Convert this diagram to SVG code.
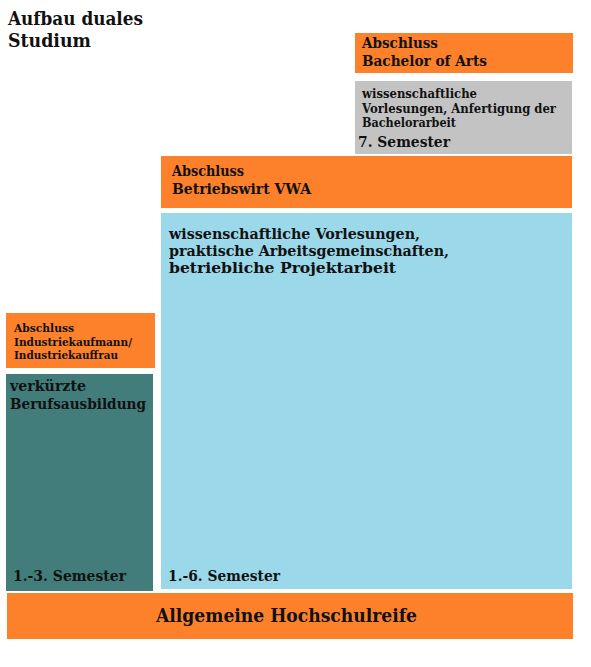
<svg xmlns="http://www.w3.org/2000/svg" width="591" height="667" viewBox="0 0 591 667">
<style>
text{font-family:"DejaVu Serif","Liberation Serif",serif;font-weight:bold;fill:#111;}
.or{fill:#fd812b;}
.gr{fill:#c3c3c3;}
.tl{fill:#427c7b;}
.bl{fill:#9ad8ea;}
</style>
<rect width="591" height="667" fill="#fff"/>
<g id="title">
<text x="8" y="25" font-size="18" textLength="135" lengthAdjust="spacingAndGlyphs">Aufbau duales</text>
<text x="8" y="47" font-size="18" textLength="83" lengthAdjust="spacingAndGlyphs">Studium</text>
</g>
<g id="bachelor">
<rect class="or" x="355" y="33" width="218" height="40"/>
<text x="362" y="48" font-size="14" textLength="76" lengthAdjust="spacingAndGlyphs">Abschluss</text>
<text x="362" y="66" font-size="14" textLength="125" lengthAdjust="spacingAndGlyphs">Bachelor of Arts</text>
</g>
<g id="semester7">
<rect class="gr" x="355" y="81" width="217" height="73"/>
<text x="362" y="98" font-size="12" textLength="115" lengthAdjust="spacingAndGlyphs">wissenschaftliche</text>
<text x="362" y="113" font-size="12" textLength="194" lengthAdjust="spacingAndGlyphs">Vorlesungen, Anfertigung der</text>
<text x="362" y="127" font-size="12" textLength="94" lengthAdjust="spacingAndGlyphs">Bachelorarbeit</text>
<text x="358" y="147" font-size="15" textLength="92" lengthAdjust="spacingAndGlyphs">7. Semester</text>
</g>
<g id="vwa">
<rect class="or" x="161" y="156" width="411" height="52"/>
<text x="172" y="176" font-size="14" textLength="72" lengthAdjust="spacingAndGlyphs">Abschluss</text>
<text x="172" y="194" font-size="14" textLength="139" lengthAdjust="spacingAndGlyphs">Betriebswirt VWA</text>
</g>
<g id="semester1-6">
<rect class="bl" x="161" y="213" width="411" height="376"/>
<text x="169" y="239" font-size="14" textLength="251" lengthAdjust="spacingAndGlyphs">wissenschaftliche Vorlesungen,</text>
<text x="169" y="256" font-size="14" textLength="280" lengthAdjust="spacingAndGlyphs">praktische Arbeitsgemeinschaften,</text>
<text x="169" y="273" font-size="14" textLength="227" lengthAdjust="spacingAndGlyphs">betriebliche Projektarbeit</text>
<text x="168" y="581" font-size="14" textLength="112" lengthAdjust="spacingAndGlyphs">1.-6. Semester</text>
</g>
<g id="industriekaufmann">
<rect class="or" x="6" y="313" width="149" height="55"/>
<text x="14" y="332" font-size="11" textLength="60" lengthAdjust="spacingAndGlyphs">Abschluss</text>
<text x="14" y="346" font-size="11" textLength="118" lengthAdjust="spacingAndGlyphs">Industriekaufmann/</text>
<text x="14" y="359" font-size="11" textLength="104" lengthAdjust="spacingAndGlyphs">Industriekauffrau</text>
</g>
<g id="ausbildung">
<rect class="tl" x="6" y="374" width="147" height="217"/>
<text x="10" y="391" font-size="15" textLength="76" lengthAdjust="spacingAndGlyphs">verkürzte</text>
<text x="10" y="409" font-size="15" textLength="136" lengthAdjust="spacingAndGlyphs">Berufsausbildung</text>
<text x="13" y="581" font-size="14" textLength="113" lengthAdjust="spacingAndGlyphs">1.-3. Semester</text>
</g>
<g id="hochschulreife">
<rect class="or" x="7" y="593" width="566" height="46"/>
<text x="156" y="622" font-size="18" textLength="261" lengthAdjust="spacingAndGlyphs">Allgemeine Hochschulreife</text>
</g>
<g id="connectors"/>
</svg>
